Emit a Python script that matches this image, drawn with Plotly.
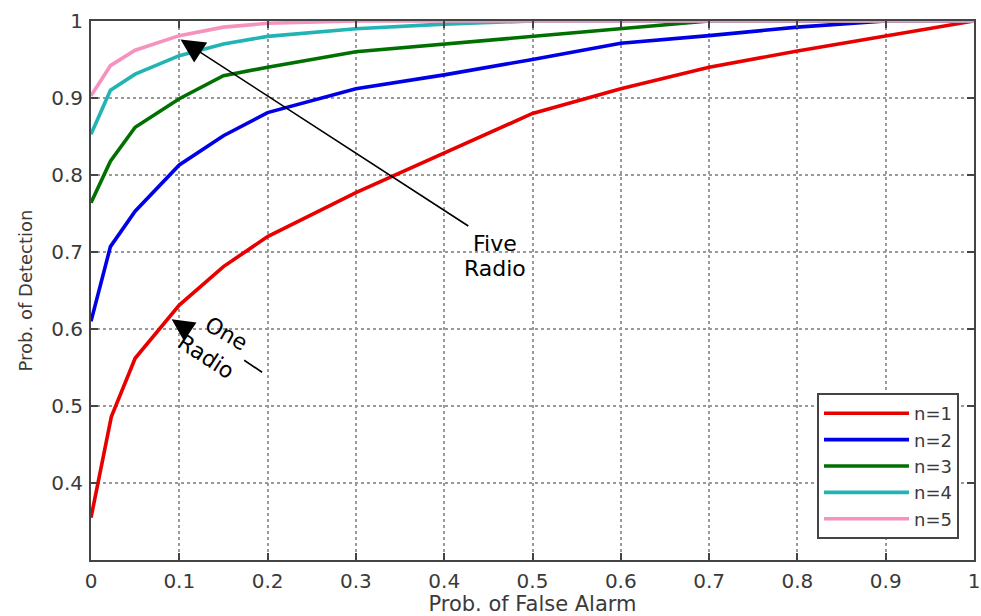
import plotly.graph_objects as go

# ---- data ----
pfa_n1 = [0, 0.023, 0.05, 0.1, 0.15, 0.2, 0.3, 0.4, 0.5, 0.6, 0.7, 0.8, 0.9, 1.0]
pd_n1 = [0.355, 0.486, 0.562, 0.631, 0.681, 0.72, 0.777, 0.828, 0.88, 0.912, 0.94, 0.961, 0.981, 1.0]

pfa_n2 = [0, 0.022, 0.05, 0.1, 0.15, 0.2, 0.3, 0.4, 0.5, 0.6, 0.7, 0.8, 0.9, 1.0]
pd_n2 = [0.61, 0.707, 0.753, 0.813, 0.851, 0.881, 0.912, 0.93, 0.95, 0.971, 0.981, 0.992, 1.0, 1.0]

pfa_n3 = [0, 0.022, 0.05, 0.1, 0.15, 0.2, 0.3, 0.4, 0.5, 0.6, 0.7, 1.0]
pd_n3 = [0.764, 0.818, 0.862, 0.899, 0.929, 0.94, 0.96, 0.97, 0.981, 0.991, 1.0, 1.0]

pfa_n4 = [0, 0.022, 0.05, 0.1, 0.15, 0.2, 0.3, 0.4, 0.5, 1.0]
pd_n4 = [0.853, 0.91, 0.931, 0.955, 0.97, 0.98, 0.99, 0.996, 1.0, 1.0]

pfa_n5 = [0, 0.022, 0.05, 0.1, 0.15, 0.2, 0.3, 1.0]
pd_n5 = [0.903, 0.942, 0.962, 0.981, 0.992, 0.997, 1.0, 1.0]

series_names = ["n=1", "n=2", "n=3", "n=4", "n=5"]
series_colors = ["#e80000", "#0000e6", "#007000", "#22b4b4", "#f592bd"]

x_ticks = [0, 0.1, 0.2, 0.3, 0.4, 0.5, 0.6, 0.7, 0.8, 0.9, 1]
x_tick_labels = ["0", "0.1", "0.2", "0.3", "0.4", "0.5", "0.6", "0.7", "0.8", "0.9", "1"]
y_ticks = [0.4, 0.5, 0.6, 0.7, 0.8, 0.9, 1]
y_tick_labels = ["0.4", "0.5", "0.6", "0.7", "0.8", "0.9", "1"]

FONT = "DejaVu Sans"

fig = go.Figure()
xs = [pfa_n1, pfa_n2, pfa_n3, pfa_n4, pfa_n5]
ys = [pd_n1, pd_n2, pd_n3, pd_n4, pd_n5]
for x, y, name, col in zip(xs, ys, series_names, series_colors):
    fig.add_trace(go.Scatter(x=x, y=y, mode="lines", name=name,
                             line=dict(color=col, width=3.6)))

axis_common = dict(
    showline=True, linecolor="#444444", linewidth=2, mirror="ticks",
    ticks="inside", ticklen=7, tickwidth=1.5, tickcolor="#444444",
    showgrid=True, gridcolor="#9a9a9a", gridwidth=1.5, griddash="dot",
    zeroline=False, tickfont=dict(family=FONT, size=20, color="#3a3a3a"),
    ticklabeloverflow="allow",
)

fig.update_xaxes(range=[0, 1], tickvals=x_ticks, ticktext=x_tick_labels,
                 title=dict(text="Prob. of False Alarm",
                            font=dict(family=FONT, size=21, color="#3a3a3a"), standoff=3),
                 ticklabelstandoff=2, automargin=False, **axis_common)
fig.update_yaxes(range=[0.3, 1], tickvals=y_ticks, ticktext=y_tick_labels,
                 title=dict(text="Prob. of Detection",
                            font=dict(family=FONT, size=18, color="#3a3a3a"), standoff=14),
                 ticklabelstandoff=2, automargin=False, **axis_common)

# annotations
fig.add_annotation(x=0.1014, y=0.976, ax=0.429, ay=0.7325, axref="x", ayref="y",
                   xref="x", yref="y", text="", showarrow=True,
                   arrowhead=2, arrowsize=3.0, arrowwidth=1.6, arrowcolor="black")
fig.add_annotation(x=0.457, y=0.711, text="Five", showarrow=False,
                   font=dict(family=FONT, size=22, color="black"))
fig.add_annotation(x=0.457, y=0.679, text="Radio", showarrow=False,
                   font=dict(family=FONT, size=22, color="black"))
fig.add_annotation(x=0.0913, y=0.6126, ax=0.1116, ay=0.597, axref="x", ayref="y",
                   xref="x", yref="y", text="", showarrow=True,
                   arrowhead=2, arrowsize=2.8, arrowwidth=1.6, arrowcolor="black")
fig.add_annotation(x=0.153, y=0.594, text="One", showarrow=False, textangle=30,
                   font=dict(family=FONT, size=22, color="black"))
fig.add_annotation(x=0.130, y=0.564, text="Radio", showarrow=False, textangle=33,
                   font=dict(family=FONT, size=22, color="black"))
fig.add_shape(type="line", xref="x", yref="y", x0=0.1735, y0=0.5594, x1=0.1938, y1=0.5438,
              line=dict(color="black", width=1.6))

fig.update_layout(
    width=981, height=616,
    margin=dict(l=91, r=7, t=21, b=56),
    paper_bgcolor="white", plot_bgcolor="white",
    showlegend=True,
    legend=dict(x=0.983, xanchor="right", y=0.039, yanchor="bottom",
                bgcolor="white", bordercolor="#444444", borderwidth=2,
                font=dict(family=FONT, size=18, color="#3a3a3a"),
                itemwidth=85, tracegroupgap=0),
)

fig.write_html("out.html", config={"displayModeBar": False},
               post_script="document.body.style.margin='0px';")
